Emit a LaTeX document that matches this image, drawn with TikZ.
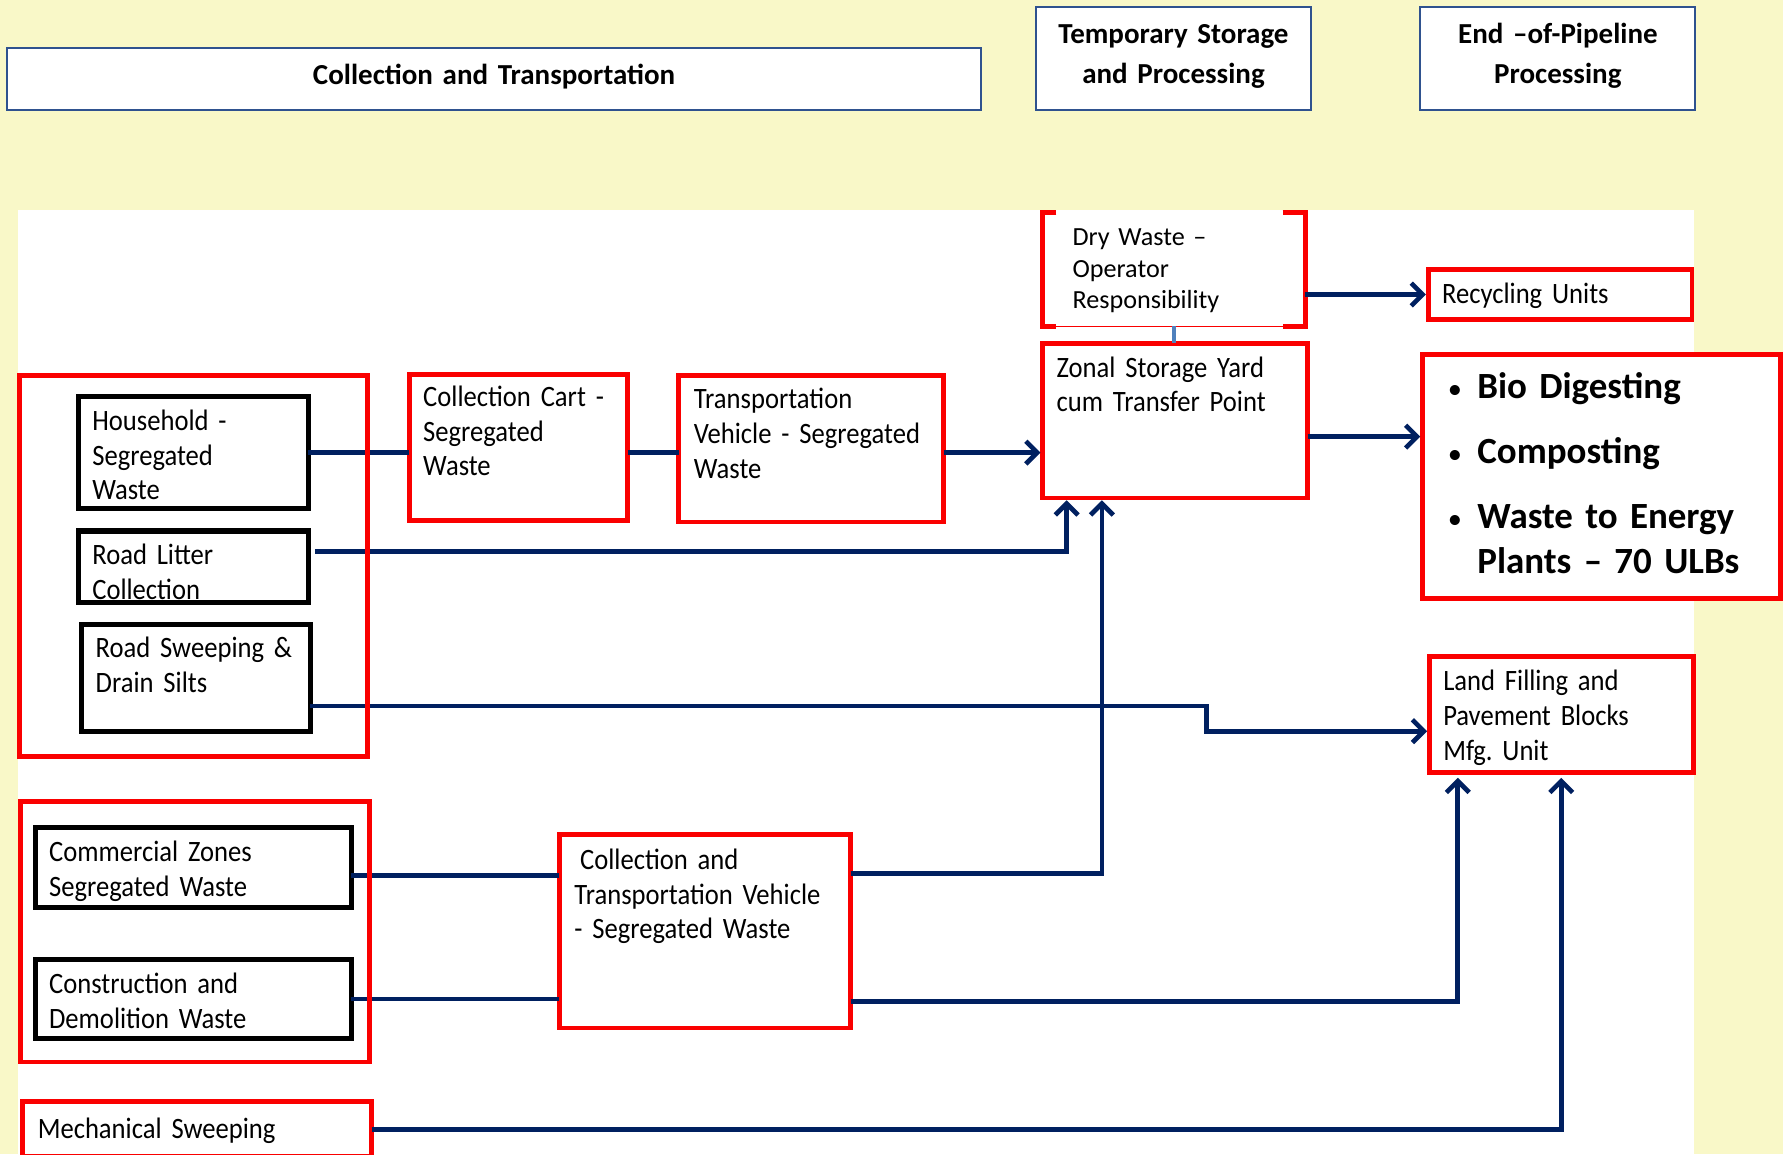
\documentclass[tikz,border=0pt]{standalone}
\usepackage{fontspec}
\setmainfont{Carlito}
\newfontfamily\bodyfont{Carlito}[FakeStretch=0.9]
\usetikzlibrary{arrows.meta,calc}
\definecolor{bgyellow}{RGB}{249,248,200}
\definecolor{boxred}{RGB}{250,0,0}
\definecolor{navy}{RGB}{0,32,96}
\definecolor{hdrblue}{RGB}{47,82,143}
\definecolor{steel}{RGB}{79,129,189}
\newcommand\mkbox[6]{\node[#1,anchor=north west,minimum width={#4-#2},minimum height={#5-#3}] (#6) at (#2,#3) {};}
\newcommand\bul{\makebox[27pt][l]{\hspace*{1pt}\mdseries\fontsize{25}{40}\selectfont •}}
\tikzset{
  redbox/.style={draw=boxred, line width=4.2pt, fill=white, inner sep=0pt, outer sep=0pt},
  grpbox/.style={draw=boxred, line width=4.2pt, fill=white, inner sep=0pt, outer sep=0pt},
  blkbox/.style={draw=black, line width=4.6pt, fill=white, inner sep=0pt, outer sep=0pt},
  hdrbox/.style={draw=hdrblue, line width=1.8pt, fill=white, inner sep=0pt, outer sep=0pt},
  drybox/.style={fill=white, inner sep=0pt, outer sep=0pt},
  bodytxt/.style={anchor=north west, inner sep=0pt, text width=260pt, align=left, font=\frenchspacing\bodyfont\fontsize{26}{30.5}\selectfont},
  drytxt/.style={anchor=north west, inner sep=0pt, text width=200pt, align=left, font=\frenchspacing\fontsize{23}{28}\selectfont},
  hdrtxt/.style={anchor=north, inner sep=0pt, text width=240pt, align=center, font=\bfseries\fontsize{25.5}{35}\selectfont},
  biotxt/.style={anchor=north west, inner sep=0pt, text width=300pt, align=left, font=\bfseries\fontsize{32.5}{40}\selectfont},
  conn/.style={draw=navy, line width=4.1pt},
  arr/.style={conn, -{Straight Barb[length=10pt,width=20pt]}, shorten >=2pt},
  steelconn/.style={draw=steel, line width=3pt},
}
\begin{document}
\begin{tikzpicture}[x=1pt,y=-1pt]
\useasboundingbox (0,0) rectangle (1568,1015);
\fill[bgyellow] (0,0) rectangle (1568,1015);
\clip (0,0) rectangle (1568,1015);
\fill[white] (16,185) rectangle (1490,1015);

% headers
\mkbox{hdrbox}{6}{42}{863}{97}{hdrA}
\node[hdrtxt, text width=800pt] (hdrAt) at (434.5,49.7) {\strut Collection and Transportation};
\mkbox{hdrbox}{911}{6}{1153}{97}{hdrB}
\node[hdrtxt] (hdrBt) at (1032,13.7) {\strut Temporary Storage\\and Processing};
\mkbox{hdrbox}{1249}{6}{1491}{97}{hdrC}
\node[hdrtxt] (hdrCt) at (1370,13.7) {\strut End –of-Pipeline\\Processing};

% groups
\mkbox{grpbox}{17}{330}{323}{665}{g1}
\mkbox{grpbox}{18}{705}{325}{934}{g2}

% source boxes
\mkbox{blkbox}{69}{349}{271}{447}{hh}
\node[bodytxt] (hht) at (81,357) {\strut Household -\\Segregated\\Waste};
\mkbox{blkbox}{69}{467}{271}{530}{rl}
\node[bodytxt] (rlt) at (81,475) {\strut Road Litter\\Collection};
\mkbox{blkbox}{72}{549}{273}{643}{rs}
\node[bodytxt] (rst) at (84,557) {\strut Road Sweeping \&\\Drain Silts};
\mkbox{blkbox}{31}{728}{309}{798}{com}
\node[bodytxt] (comt) at (43,736) {\strut Commercial Zones\\Segregated Waste};
\mkbox{blkbox}{31}{844}{309}{913}{con}
\node[bodytxt] (cont) at (43,852) {\strut Construction and\\Demolition Waste};
\mkbox{redbox}{20}{969}{327}{1017}{mech}
\node[bodytxt] (mecht) at (33,980) {\strut Mechanical Sweeping};

% middle boxes
\mkbox{redbox}{360}{329}{552}{458}{cart}
\node[bodytxt] (cartt) at (372,336) {\strut Collection Cart -\\Segregated\\Waste};
\mkbox{redbox}{597}{330}{830}{459}{tv}
\node[bodytxt] (tvt) at (610,338) {\strut Transportation\\Vehicle - Segregated\\Waste};
\mkbox{redbox}{492}{734}{748}{904}{ctv}
\node[bodytxt] (ctvt) at (505,743) {\strut\hspace*{5pt}Collection and\\Transportation Vehicle\\- Segregated Waste};

% temporary storage
\mkbox{drybox}{917}{187}{1148}{287}{dry}
\draw[boxred, line width=4.2pt] ($(dry.north west)+(12,0)$) -- (dry.north west) -- (dry.south west) -- ++(12,0);
\draw[boxred, line width=4.2pt] ($(dry.north east)+(-20,0)$) -- (dry.north east) -- (dry.south east) -- ++(-20,0);
\draw[boxred, line width=1pt] (dry.south west) -- (dry.south east);
\node[drytxt] (dryt) at (943,195.8) {\strut Dry Waste –\\Operator\\Responsibility};
\mkbox{redbox}{917}{302}{1150}{438}{zonal}
\node[bodytxt] (zonalt) at (929,310) {\strut Zonal Storage Yard\\cum Transfer Point};

% end of pipeline
\mkbox{redbox}{1256}{237}{1488}{281}{rec}
\node[bodytxt] (rect) at (1268,245) {\strut Recycling Units};
\mkbox{redbox}{1251}{312}{1566}{526}{bio}
\node[biotxt] (biot) at (1272,322.5) {\strut\bul Bio Digesting\\[17pt]\bul Composting\\[17pt]\bul Waste to Energy\\ \hspace*{27pt}Plants – 70 ULBs};
\mkbox{redbox}{1257}{577}{1489}{679}{land}
\node[bodytxt] (landt) at (1269,586) {\strut Land Filling and\\Pavement Blocks\\Mfg. Unit};

% connectors
\draw[conn] (hh.east) -- (hh.east -| cart.west);
\draw[conn] (cart.east |- hh.east) -- (hh.east -| tv.west);
\draw[arr] (tv.east |- hh.east) -- (hh.east -| zonal.west);

\coordinate (rlo) at ($(rl.east)+(6,-13.5)$);
\draw[arr] (rlo) -| ($(zonal.south west)+(21,0)$);

\coordinate (rso) at ($(rs.east)+(0,25)$);
\draw[arr] (rso) -- ++(788,0) |- ($(land.west)+(0,15)$);

\coordinate (comA) at ($(com.east)+(0,7)$);
\draw[conn] (comA) -- (comA -| ctv.west);
\draw[conn] (con.east) -- (con.east -| ctv.west);

\coordinate (ctvA) at ($(ctv.east)+(0,-51)$);
\draw[arr] (ctvA) -| ($(zonal.south)+(-64.5,0)$);
\coordinate (ctvB) at ($(ctv.east)+(0,62)$);
\draw[arr, shorten >=5pt] (ctvB) -| ($(land.south west)+(25,0)$);
\draw[arr, shorten >=5pt] (mech.east) -| (land.south);

\draw[arr] (dry.east |- rec.west) -- (rec.west);
\coordinate (zb) at ($(zonal.east)+(0,14)$);
\draw[arr] (zb) -- (zb -| bio.west);
\draw[steelconn] (dry.south) -- (dry.south |- zonal.north);

% group borders on top
\draw[boxred, line width=4.2pt] (g1.north west) rectangle (g1.south east);
\draw[boxred, line width=4.2pt] (g2.north west) rectangle (g2.south east);
\end{tikzpicture}
\end{document}
